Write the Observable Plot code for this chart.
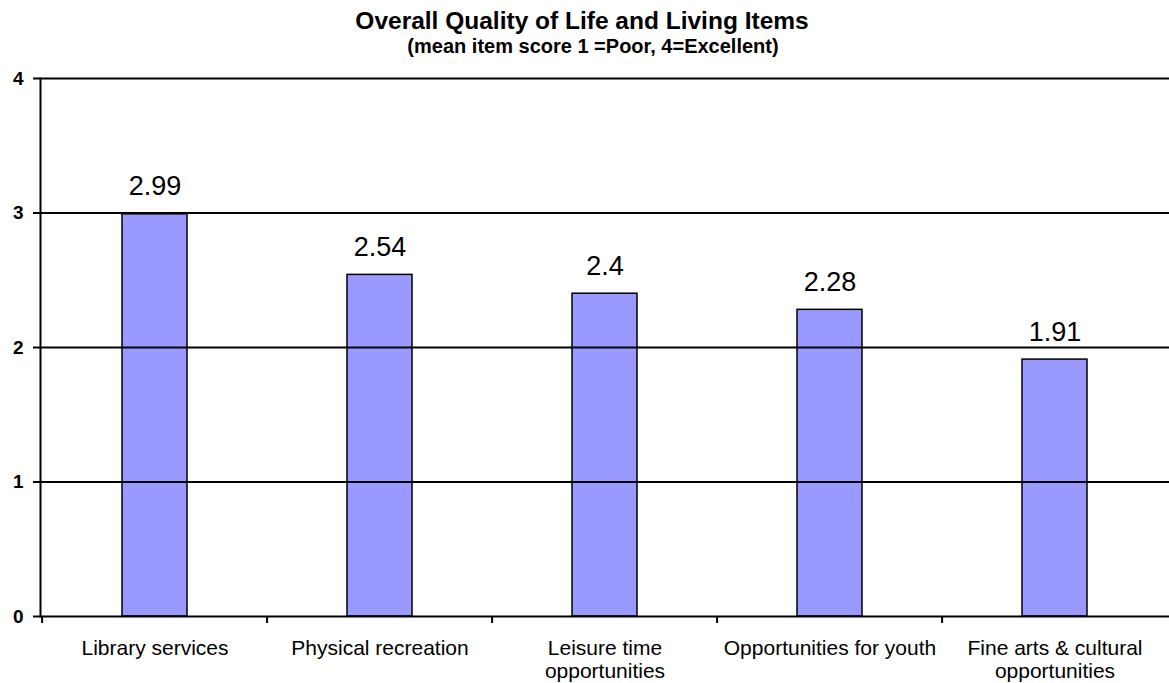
<!DOCTYPE html>
<html>
<head>
<meta charset="utf-8">
<script src="https://cdn.jsdelivr.net/npm/d3@7"></script>
<script src="https://cdn.jsdelivr.net/npm/@observablehq/plot@0.6"></script>
<style>
  body { margin: 0; background: #fff; font-family: "Liberation Sans", Arial, sans-serif; }
  #head { position: relative; width: 1169px; height: 62px; }
  .t { position: absolute; white-space: nowrap; transform: translateX(-50%); font-weight: bold; color: #000; }
  #title { left: 582px; top: 9px; font-size: 24.5px; line-height: 24.5px; }
  #subtitle { left: 593px; top: 36px; font-size: 20px; line-height: 20px; }
  svg { display: block; }
</style>
</head>
<body>
<div id="head">
  <div class="t" id="title">Overall Quality of Life and Living Items</div>
  <div class="t" id="subtitle">(mean item score 1 =Poor, 4=Excellent)</div>
</div>
<div id="chart"></div>
<script>
const categories = ["Library services", "Physical recreation", "Leisure time\nopportunities", "Opportunities for youth", "Fine arts & cultural\nopportunities"];
const scores = [2.99, 2.54, 2.4, 2.28, 1.91];
const yTicks = [0, 1, 2, 3, 4];

const data = categories.map((c, i) => ({category: c, score: scores[i]}));

const width = 1169, height = 621, marginLeft = 40, marginRight = 0, marginTop = 16, marginBottom = 67;
const step = (width - marginLeft - marginRight) / categories.length;

const chart = Plot.plot({
  width, height, marginLeft, marginRight, marginTop, marginBottom,
  style: {fontFamily: "'Liberation Sans', Arial, sans-serif", background: "#fff", color: "#000"},
  x: {domain: categories, paddingInner: 0.712, paddingOuter: 0.356, label: null},
  y: {domain: [0, 4], label: null},
  marks: [
    Plot.barY(data, {x: "category", y: "score", fill: "#9999FF", stroke: "#000", strokeWidth: 1.5}),
    Plot.ruleY(yTicks, {stroke: "#000", strokeWidth: 2}),
    Plot.frame({anchor: "left", stroke: "#000", strokeWidth: 2}),
    Plot.ruleX(categories, {x: d => d, y1: 0, y2: 0, dx: -step / 2, insetBottom: -7, stroke: "#000", strokeWidth: 2}),
    Plot.axisY({ticks: yTicks, tickSize: 7, text: null, strokeWidth: 2}),
    Plot.text(yTicks, {y: d => d, text: d => String(d), frameAnchor: "left", textAnchor: "end", dx: -17, fontSize: 19, fontWeight: "bold"}),
    Plot.axisX({tickSize: 0, tickPadding: 22, fontSize: 21, lineHeight: 1.1, lineAnchor: "top"}),
    Plot.text(data, {x: "category", y: "score", text: d => String(d.score), lineAnchor: "bottom", dy: -19, fontSize: 27})
  ]
});
document.getElementById("chart").appendChild(chart);
</script>
</body>
</html>
